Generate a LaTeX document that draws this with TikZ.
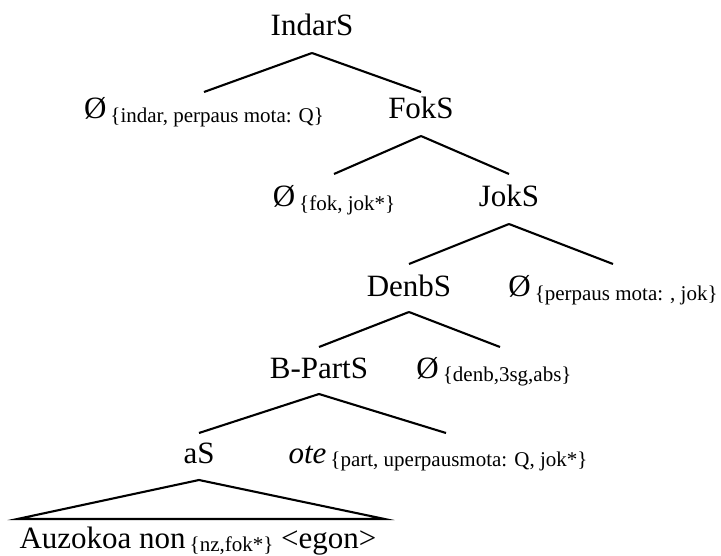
\documentclass[tikz,border=0pt]{standalone}
\usepackage{fontspec}
\setmainfont{Liberation Serif}
% feature bundle set as a lowered, smaller subscript
\newcommand\featsub[1]{\kern4pt\raisebox{-3.5pt}{\fontsize{21}{21}\selectfont\{#1\}}}
\begin{document}
\begin{tikzpicture}[x=1pt,y=-1pt,
  lbl/.style={anchor=base,inner sep=0pt,font=\fontsize{31}{31}\selectfont},
  branch/.style={line width=2.1pt,line cap=butt},
]
\useasboundingbox (0,0) rectangle (721,556);

% labels, placed on their baselines
\node[lbl] (indar)    at (312,36)  {IndarS};
\node[lbl] (nullindar) at (204,119) {Ø\featsub{indar, perpaus mota: Q}};
\node[lbl] (fok)      at (421,119) {FokS};
\node[lbl] (nullfok)  at (334,207) {Ø\featsub{fok, jok*}};
\node[lbl] (jok)      at (509,207) {JokS};
\node[lbl] (denb)     at (409,297) {DenbS};
\node[lbl] (nulljok)  at (613,297) {Ø\featsub{perpaus mota: , jok}};
\node[lbl] (bpart)    at (319,378) {B-PartS};
\node[lbl] (nulldenb) at (494,378) {Ø\featsub{denb,3sg,abs}};
\node[lbl] (as)       at (199,463) {aS};
\node[lbl] (ote)      at (438,463) {\textit{ote}\featsub{part, uperpausmota: Q, jok*}};
\node[lbl] (leaf)     at (198,548) {Auzokoa non\featsub{nz,fok*} <egon>};

% branches
\draw[branch] ([yshift=-17pt]indar.base) -- ([yshift=27pt]nullindar.base);
\draw[branch] ([yshift=-17pt]indar.base) -- ([yshift=27pt]fok.base);
\draw[branch] ([yshift=-17pt]fok.base) -- ([yshift=33pt]nullfok.base);
\draw[branch] ([yshift=-17pt]fok.base) -- ([yshift=33pt]jok.base);
\draw[branch] ([yshift=-17pt]jok.base) -- ([yshift=33pt]denb.base);
\draw[branch] ([yshift=-17pt]jok.base) -- ([yshift=33pt]nulljok.base);
\draw[branch] ([yshift=-15pt]denb.base) -- ([yshift=31pt]bpart.base);
\draw[branch] ([yshift=-15pt]denb.base) -- ([xshift=6pt,yshift=31pt]nulldenb.base);
\draw[branch] ([yshift=-16pt]bpart.base) -- ([yshift=30pt]as.base);
\draw[branch] ([yshift=-16pt]bpart.base) -- ([xshift=8pt,yshift=30pt]ote.base);

% roof over the unanalysed phrase
\draw[branch,line join=miter] ([yshift=-17pt]as.base)
  -- ([xshift=-2pt,yshift=29pt]leaf.base west)
  -- ([xshift=8pt,yshift=29pt]leaf.base east) -- cycle;
\end{tikzpicture}
\end{document}
